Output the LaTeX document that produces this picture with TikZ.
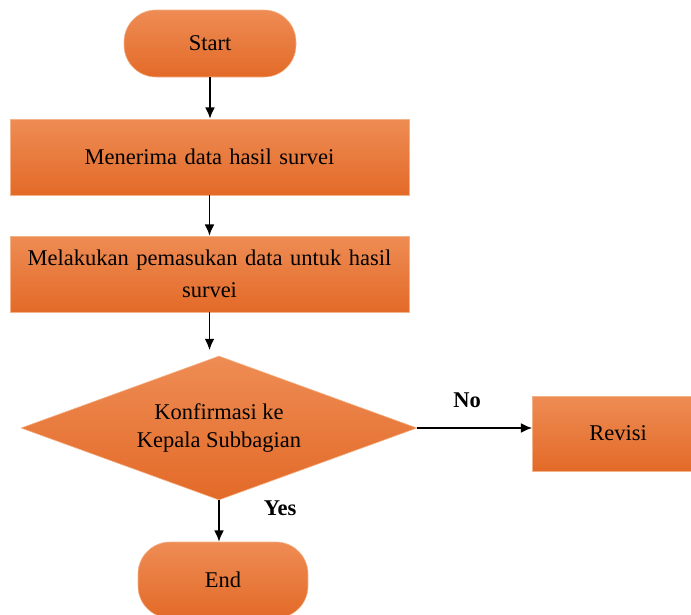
\documentclass[tikz,border=0pt]{standalone}
\usepackage{fontspec}
\setmainfont{Liberation Serif}
\usepackage{tikz}
\usetikzlibrary{shapes,arrows.meta}
\definecolor{jinggaAtas}{RGB}{238,140,84}
\definecolor{jinggaBawah}{RGB}{227,106,40}
\definecolor{jinggaTepi}{RGB}{244,178,136}
\tikzstyle{ujung}=[rectangle, rounded corners=0.8cm, draw=jinggaTepi, top color=jinggaAtas, bottom color=jinggaBawah,
        minimum width=4.3cm, minimum height=1.675cm, text centered, font=\fontsize{16}{20}\selectfont]
\tikzstyle{kotak}=[rectangle, draw=jinggaTepi, top color=jinggaAtas, bottom color=jinggaBawah,
        minimum width=9.975cm, minimum height=1.9cm, text width=9.5cm, align=center, font=\fontsize{16}{23}\selectfont]
\tikzstyle{belah}=[diamond, aspect=2.75, draw=jinggaTepi, top color=jinggaAtas, bottom color=jinggaBawah,
        minimum width=9.9cm, minimum height=3.6cm, inner sep=0pt, align=center, font=\fontsize{16}{20}\selectfont]
\tikzstyle{panah}=[draw, line width=1.2pt, -{Latex[length=8pt,width=7pt]}]
\tikzstyle{tanda}=[font=\bfseries\fontsize{16}{20}\selectfont]

\begin{document}
\begin{tikzpicture}
\useasboundingbox (0,0) rectangle (17.275,-15.35);
\clip (0,0) rectangle (17.275,-15.35);
\node [ujung] (start) at (5.25,-1.0875) {Start};
\node [kotak] (terima) at (5.2375,-3.925) {Menerima data hasil survei};
\node [kotak] (masuk) at (5.2375,-6.85) {Melakukan pemasukan data untuk hasil\\survei};
\node [belah] (konfirmasi) at (5.475,-10.7) {Konfirmasi ke\\Kepala Subbagian};
\node [kotak, minimum width=4.275cm, minimum height=1.875cm, text width=3.8cm] (revisi) at (15.45,-10.8375) {Revisi};
\node [ujung, minimum width=4.25cm, minimum height=1.9cm] (end) at (5.575,-14.5) {End};

\draw [panah] (start) -- (start |- terima.north);
\draw [panah] (terima) -- (terima |- masuk.north);
\draw [panah] (masuk.south) -- ([yshift=4pt]masuk.south |- konfirmasi.north);
\draw [panah] (konfirmasi.east) -- (revisi.west |- konfirmasi.east);
\draw [panah] (konfirmasi.south) -- (konfirmasi.south |- end.north);

\node [tanda] (no) at (11.675,-10.0) {No};
\node [tanda] (yes) at (7.0,-12.7) {Yes};

\end{tikzpicture}
\end{document}
